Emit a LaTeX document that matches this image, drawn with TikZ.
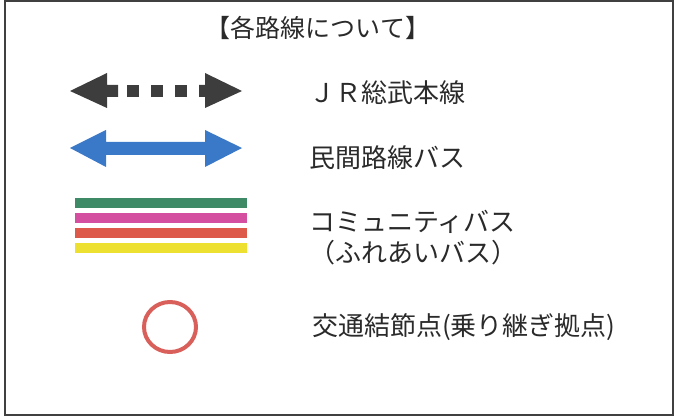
\documentclass[tikz,border=0pt]{standalone}
\usepackage{fontspec}
\setmainfont{Noto Sans CJK JP}
\definecolor{txt}{HTML}{2A2A2A}
\definecolor{jrgray}{HTML}{3C3D3C}
\definecolor{busblue}{HTML}{3A78C8}
\definecolor{cgreen}{HTML}{3E8A66}
\definecolor{cpink}{HTML}{D44FA0}
\definecolor{cred}{HTML}{DD5A4A}
\definecolor{cyellow}{HTML}{EEE030}
\definecolor{ring}{HTML}{D9605A}
\begin{document}
\begin{tikzpicture}[x=1pt,y=-1pt,
  lbl/.style={anchor=west,inner sep=0pt,text=txt,font=\fontsize{26}{30}\selectfont},
  bar/.style={inner sep=0pt,minimum width=172pt,minimum height=10pt}]
\useasboundingbox (0,0) rectangle (675,417);
\draw[line width=1.6pt,draw=black!75] (5,1) rectangle (673,415);
\node[inner sep=0pt,text=txt,font=\fontsize{25}{30}\selectfont] (title) at (318,28) {【各路線について】};
% JR arrow
\fill[jrgray] (70,91) -- (107,73) -- (107,85) -- (118,85) -- (118,97) -- (107,97) -- (107,108) -- cycle;
\fill[jrgray] (127,85) rectangle (139,97);
\fill[jrgray] (151,85) rectangle (163,97);
\fill[jrgray] (175,85) rectangle (187,97);
\fill[jrgray] (199,85) -- (205,85) -- (205,73) -- (242,91) -- (205,108) -- (205,97) -- (199,97) -- cycle;
% Bus arrow
\fill[busblue] (70,148) -- (106,130) -- (106,142) -- (205,142) -- (205,130) -- (242,148) -- (205,167) -- (205,155) -- (106,155) -- (106,167) -- cycle;
% community bus bars
\node[bar,fill=cgreen] (g) at (161,202.5) {};
\node[bar,fill=cpink] (p) at (161,217.5) {};
\node[bar,fill=cred] (r) at (161,232.5) {};
\node[bar,fill=cyellow] (y) at (161,248) {};
% ring
\draw[ring,line width=4pt] (170,327) ellipse [x radius=26pt,y radius=25pt];
% labels
\node[lbl] (jr) at (309,93) {ＪＲ総武本線};
\node[lbl] (bus) at (309,158) {民間路線バス};
\node[lbl] (com) at (309,222) {コミュニティバス};
\node[lbl] (fur) at (309,253) {（ふれあいバス）};
\node[lbl] (node) at (312,327) {交通結節点(乗り継ぎ拠点)};
\end{tikzpicture}
\end{document}
